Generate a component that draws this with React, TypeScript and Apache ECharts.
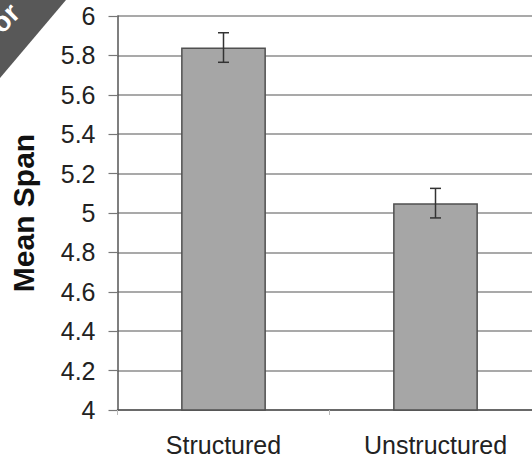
import React, { useEffect, useRef } from "react";
import * as echarts from "echarts";

const categories = ["Structured", "Unstructured"];
const meanSpan = [5.84, 5.05];
const errorSpan = [0.075, 0.075];
const yTicks = [4, 4.2, 4.4, 4.6, 4.8, 5, 5.2, 5.4, 5.6, 5.8, 6];
const yTitle = "Mean Span";

export default function App() {
  const ref = useRef<HTMLDivElement>(null);
  useEffect(() => {
    if (!ref.current) return;
    const chart = echarts.init(ref.current, null, { renderer: "svg" });
    const errData = categories.map((c, i) => [i, meanSpan[i] - errorSpan[i], meanSpan[i] + errorSpan[i]]);
    chart.setOption({
      animation: false,
      backgroundColor: "#ffffff",
      textStyle: { fontFamily: "Liberation Sans, Arial, sans-serif" },
      grid: { left: 117.5, right: 0.5, top: 16, bottom: 56, containLabel: false },
      xAxis: {
        type: "category",
        data: categories,
        axisLine: { lineStyle: { color: "#555", width: 1.5 } },
        axisTick: { show: true, alignWithLabel: false, length: 5, lineStyle: { color: "#bbb" } },
        axisLabel: { fontSize: 25, color: "#222", margin: 22 },
      },
      yAxis: {
        type: "value",
        min: yTicks[0],
        max: yTicks[yTicks.length - 1],
        interval: 0.2,
        name: yTitle,
        nameLocation: "middle",
        nameRotate: 90,
        nameGap: 79,
        nameTextStyle: { fontSize: 30, fontWeight: "bold", color: "#111" },
        axisLine: { show: true, lineStyle: { color: "#555", width: 1.5 } },
        axisTick: { show: true, length: 9, lineStyle: { color: "#777", width: 1.2 } },
        axisLabel: {
          fontSize: 25,
          color: "#222",
          margin: 22,
          formatter: (v: number) => String(Math.round(v * 10) / 10),
        },
        splitLine: { show: true, lineStyle: { color: "#8c8c8c", width: 1.5 } },
      },
      series: [
        {
          type: "bar",
          data: meanSpan,
          barWidth: "40%",
          itemStyle: { color: "#a6a6a6", borderColor: "#505050", borderWidth: 1.5 },
        },
        {
          type: "custom",
          data: errData,
          z: 10,
          renderItem: (params: any, api: any) => {
            const x = api.value(0);
            const lo = api.coord([x, api.value(1)]);
            const hi = api.coord([x, api.value(2)]);
            const half = 5.5;
            const style = { stroke: "#333", lineWidth: 1.5 };
            return {
              type: "group",
              children: [
                { type: "line", shape: { x1: lo[0], y1: lo[1], x2: hi[0], y2: hi[1] }, style },
                { type: "line", shape: { x1: hi[0] - half, y1: hi[1], x2: hi[0] + half, y2: hi[1] }, style },
                { type: "line", shape: { x1: lo[0] - half, y1: lo[1], x2: lo[0] + half, y2: lo[1] }, style },
              ],
            };
          },
        },
      ],
      graphic: [
        {
          type: "polygon",
          shape: { points: [[0, 0], [66, 0], [0, 78]] },
          style: { fill: "#585858" },
          z: 100,
        },
        {
          type: "text",
          x: 25,
          y: 18,
          rotation: Math.PI / 4,
          style: {
            text: "or",
            fill: "#ffffff",
            font: "bold 28px Liberation Sans",
            align: "right",
            verticalAlign: "bottom",
          },
          z: 101,
        },
      ],
    });
    return () => chart.dispose();
  }, []);
  return (
    <div style={{ position: "fixed", left: 0, top: 0, width: 532, height: 466, overflow: "hidden", background: "#fff" }}>
      <div ref={ref} style={{ width: 542, height: 466 }} />
    </div>
  );
}
